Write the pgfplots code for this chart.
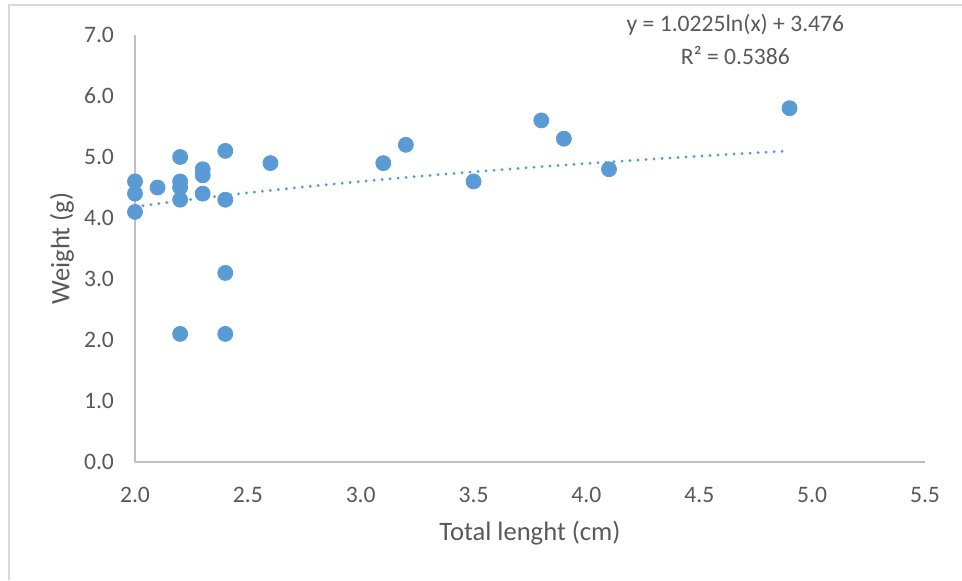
\documentclass[border=0pt]{standalone}
\usepackage{fontspec}
\setmainfont{Carlito}
\usepackage{pgfplots}
\pgfplotsset{compat=1.18}

\definecolor{dotblue}{HTML}{5B9BD5}
\definecolor{txtgray}{HTML}{595959}
\definecolor{axgray}{HTML}{BFBFBF}
\definecolor{framegray}{HTML}{D9D9D9}

\begin{document}
\begin{tikzpicture}
\begin{axis}[
  name=ax,
  scale only axis, width=395pt, height=213.5pt,
  xmin=2, xmax=5.5, ymin=0, ymax=7,
  xtick={2,2.5,...,5.5}, ytick={0,1,...,7},
  axis lines*=left, axis line style={draw=axgray, line width=0.9pt},
  major tick length=0pt,
  clip=false,
  font=\fontsize{11.8}{14}\selectfont,
  tick label style={text=txtgray},
  /pgf/number format/assume math mode=true,
  /pgf/number format/fixed, /pgf/number format/fixed zerofill, /pgf/number format/precision=1,
  xticklabel style={yshift=-9pt},
  yticklabel style={xshift=-7pt},
  xlabel={Total lenght (cm)}, ylabel={Weight (g)},
  every axis x label/.style={at={(axis description cs:0.5,0)}, yshift=-35.5pt, anchor=center,
    font=\fontsize{13.3}{15}\selectfont, text=txtgray},
  every axis y label/.style={at={(axis description cs:0,0.5)}, xshift=-36.5pt, rotate=90, anchor=center,
    font=\fontsize{13.3}{15}\selectfont, text=txtgray},
]
% measurements
\addplot[only marks, mark=*, mark size=3.75pt, dotblue, mark options={draw=dotblue, fill=dotblue}] coordinates {
  (2.0,4.6) (2.0,4.4) (2.0,4.1) (2.1,4.5)
  (2.2,5.0) (2.2,4.6) (2.2,4.5) (2.2,4.3) (2.2,2.1)
  (2.3,4.8) (2.3,4.7) (2.3,4.4)
  (2.4,5.1) (2.4,4.3) (2.4,3.1) (2.4,2.1)
  (2.6,4.9) (3.1,4.9) (3.2,5.2) (3.5,4.6)
  (3.8,5.6) (3.9,5.3) (4.1,4.8) (4.9,5.8)
};
% log trendline, y = 1.0225 ln(x) + 3.476, values tabulated
\addplot[smooth, dotblue, line width=1.6pt, line cap=round, dash pattern=on 0.01pt off 4pt] coordinates {
  (2.0,4.185) (2.25,4.305) (2.5,4.413) (2.75,4.510) (3.0,4.599)
  (3.25,4.681) (3.5,4.757) (3.75,4.828) (4.0,4.894) (4.25,4.955)
  (4.5,5.014) (4.75,5.069) (4.9,5.101)
};
\node[text=txtgray, font=\fontsize{11.8}{14}\selectfont, align=center] at (axis cs:4.66,7.16) {y = 1.0225ln(x) + 3.476};
\node[text=txtgray, font=\fontsize{11.8}{14}\selectfont, align=center] at (axis cs:4.66,6.67) {R² = 0.5386};
\end{axis}
\path[use as bounding box] ([xshift=-67.5pt,yshift=-59pt]ax.south west) rectangle ++(481pt,290pt);
\draw[framegray, line width=0.8pt] ([xshift=-63pt,yshift=-59pt]ax.south west) |- ([xshift=413.5pt,yshift=228.5pt]ax.south west);
\end{tikzpicture}
\end{document}
